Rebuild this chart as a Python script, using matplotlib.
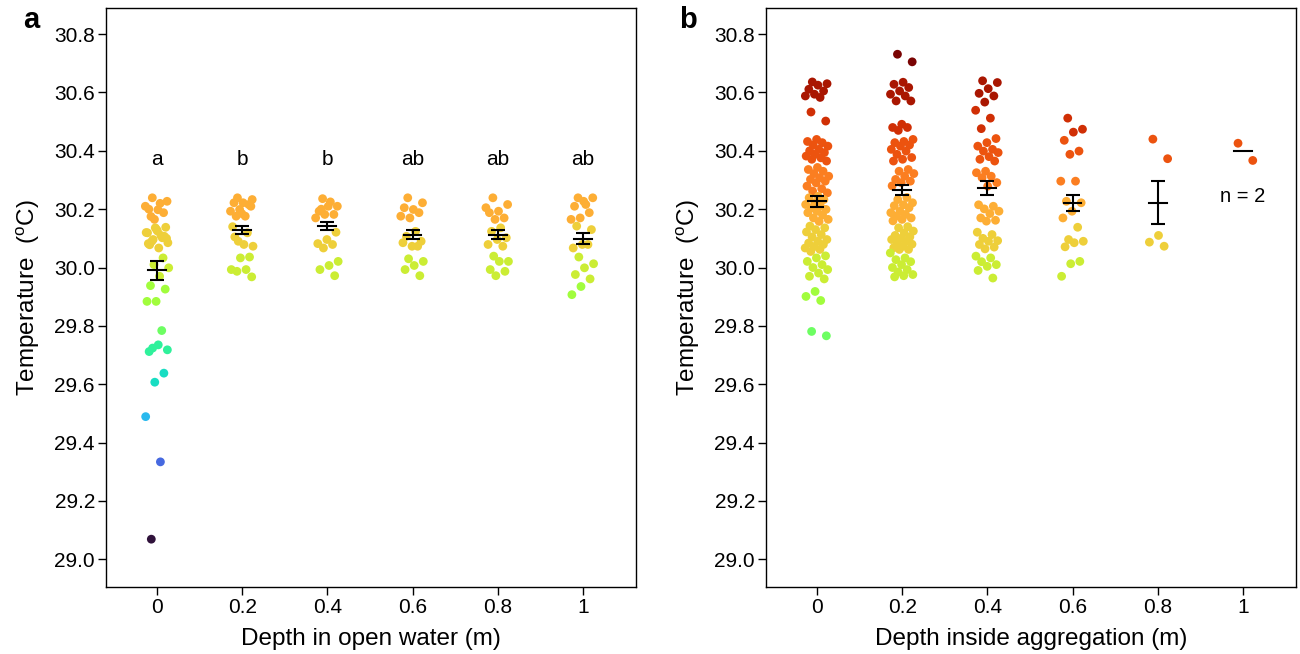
import numpy as np
import matplotlib
matplotlib.use("Agg")
import matplotlib.pyplot as plt

plt.rcParams['font.family'] = ['Liberation Sans', 'DejaVu Sans']
plt.rcParams['mathtext.fontset'] = 'custom'
plt.rcParams['mathtext.rm'] = 'Liberation Sans'

depths = [0, 0.2, 0.4, 0.6, 0.8, 1]
depth_labels = ["0", "0.2", "0.4", "0.6", "0.8", "1"]

# panel a: open water temperatures (deg C) per depth
open_water = [
    [30.239, 30.227, 30.198, 30.200, 30.188, 30.165, 30.210, 30.220, 30.175,
     30.138, 30.130, 30.119, 30.102, 30.096, 30.085, 30.067, 30.078, 30.107,
     30.136, 30.120, 30.110, 30.090, 30.100, 30.125, 30.082,
     30.033, 30.010, 29.999, 29.970, 29.938, 29.926, 29.884, 29.884,
     29.784, 29.724, 29.718, 29.735, 29.712, 29.638, 29.607, 29.489, 29.334, 29.069],
    [30.239, 30.233, 30.222, 30.222, 30.216, 30.199, 30.193, 30.176, 30.176,
     30.210, 30.185, 30.140, 30.119, 30.090, 30.073, 30.079, 30.105,
     30.036, 30.033, 29.993, 29.993, 29.987, 29.968],
    [30.236, 30.210, 30.210, 30.193, 30.182, 30.182, 30.170, 30.225, 30.200,
     30.121, 30.096, 30.082, 30.079, 30.067, 30.021, 30.007, 29.993, 29.972],
    [30.239, 30.222, 30.199, 30.205, 30.188, 30.170, 30.176, 30.124, 30.107,
     30.090, 30.073, 30.085, 30.073, 30.030, 30.021, 30.007, 29.993, 29.972],
    [30.239, 30.216, 30.193, 30.188, 30.170, 30.165, 30.205, 30.136, 30.124,
     30.102, 30.096, 30.079, 30.073, 30.039, 30.021, 30.021, 29.993, 29.987, 29.972],
    [30.239, 30.239, 30.227, 30.210, 30.188, 30.170, 30.165, 30.216, 30.142,
     30.130, 30.079, 30.067, 30.079, 30.036, 30.013, 29.999, 29.976, 29.961,
     29.935, 29.907],
]
mean_a = [29.990, 30.130, 30.143, 30.113, 30.113, 30.098]
se_a = [0.034, 0.014, 0.014, 0.014, 0.014, 0.019]
letters_a = ["a", "b", "b", "ab", "ab", "ab"]

# panel b: inside aggregation
inside_agg = [
    [30.636, 30.630, 30.625, 30.611, 30.605, 30.594, 30.588, 30.583,
     30.533, 30.502,
     30.439, 30.432, 30.428, 30.420, 30.416, 30.405, 30.400, 30.394, 30.388,
     30.382, 30.376, 30.371, 30.365,
     30.343, 30.336, 30.330, 30.322, 30.313, 30.308, 30.302, 30.296, 30.290,
     30.279, 30.270, 30.262, 30.256,
     30.244, 30.239, 30.233, 30.222, 30.216, 30.210, 30.204, 30.199, 30.193,
     30.188, 30.180, 30.170, 30.165, 30.158,
     30.142, 30.136, 30.130, 30.122, 30.113, 30.105, 30.096, 30.090, 30.084,
     30.079, 30.072, 30.067, 30.062, 30.055,
     30.040, 30.033, 30.021, 30.010, 30.000, 29.993, 29.981, 29.970, 29.961,
     29.918, 29.901, 29.887, 29.781, 29.766],
    [30.731, 30.705, 30.635, 30.628, 30.617, 30.605, 30.594, 30.588, 30.571, 30.571,
     30.491, 30.480, 30.480, 30.470,
     30.439, 30.432, 30.428, 30.420, 30.416, 30.405, 30.399, 30.388, 30.377,
     30.371, 30.365,
     30.336, 30.330, 30.322, 30.313, 30.302, 30.296, 30.291, 30.280,
     30.240, 30.233, 30.222, 30.215, 30.212, 30.205, 30.193, 30.188, 30.182,
     30.176, 30.170, 30.165, 30.160,
     30.140, 30.136, 30.125, 30.119, 30.110, 30.105, 30.100, 30.096, 30.090,
     30.085, 30.080, 30.073, 30.068, 30.062, 30.062, 30.050,
     30.033, 30.027, 30.020, 30.010, 30.000, 29.993, 29.985, 29.976, 29.972, 29.968],
    [30.640, 30.634, 30.613, 30.597, 30.588, 30.567,
     30.539, 30.512, 30.476,
     30.442, 30.428, 30.416, 30.405, 30.399, 30.394, 30.380, 30.371, 30.365,
     30.330, 30.325, 30.313, 30.308, 30.291, 30.279,
     30.215, 30.210, 30.201, 30.193, 30.185, 30.170, 30.162, 30.159,
     30.121, 30.113, 30.100, 30.092, 30.090, 30.079, 30.070, 30.064,
     30.039, 30.033, 30.020, 30.010, 30.004, 29.990, 29.964],
    [30.512, 30.474, 30.464, 30.436, 30.399, 30.388, 30.296, 30.296, 30.227,
     30.222, 30.193, 30.170, 30.138, 30.096, 30.090, 30.085, 30.071, 30.021,
     30.013, 29.970],
    [30.440, 30.373, 30.110, 30.087, 30.073],
    [30.426, 30.367],
]
mean_b = [30.227, 30.265, 30.273, 30.222, 30.222, 30.399]
se_b = [0.018, 0.018, 0.024, 0.028, 0.074, 0.0]

cmap = plt.get_cmap('turbo')
norm = plt.Normalize(29.1, 30.7)


def jitter(n, width=0.028):
    # deterministic spread of points around the depth position
    return ((np.arange(n) * 0.618034 + 0.3) % 1 - 0.5) * 2 * width


def panel(ax, groups, means, ses, xlabel):
    for d, vals in zip(depths, groups):
        vals = np.array(vals)
        cols = cmap(norm(np.round(vals, 1)))
        ax.scatter(d + jitter(len(vals)), vals, s=40, c=cols, edgecolors='none', zorder=2)
    for d, m, s in zip(depths, means, ses):
        ax.plot([d - 0.021, d + 0.021], [m, m], color='black', lw=1.5, zorder=3)
        if s > 0:
            ax.errorbar(d, m, yerr=s, fmt='none', ecolor='black', elinewidth=1.5,
                        capsize=4.8, capthick=1.5, zorder=3)
    ax.set_xlim(-0.12, 1.125)
    ax.set_ylim(28.905, 30.89)
    ax.set_xticks(depths)
    ax.set_xticklabels(depth_labels)
    yt = np.arange(29.0, 30.81, 0.2)
    ax.set_yticks(yt)
    ax.set_yticklabels(["%.1f" % v for v in yt])
    ax.tick_params(labelsize=15, length=6, width=1, direction='out', pad=2)
    for sp in ax.spines.values():
        sp.set_linewidth(1)
    ax.set_xlabel(xlabel, fontsize=17.5, labelpad=8)
    ax.set_ylabel(r'Temperature  ($^{\mathrm{o}}$C)', fontsize=17.5, labelpad=9)


fig = plt.figure(figsize=(13, 6.54), dpi=100)
ax1 = fig.add_axes([106 / 1300, 0.1024, 530 / 1300, 0.8856])
ax2 = fig.add_axes([766 / 1300, 0.1024, 530 / 1300, 0.8856])

panel(ax1, open_water, mean_a, se_a, "Depth in open water (m)")
panel(ax2, inside_agg, mean_b, se_b, "Depth inside aggregation (m)")

for d, lab in zip(depths, letters_a):
    ax1.text(d, 30.37, lab, ha='center', va='center', fontsize=15)
ax2.text(1, 30.245, "n = 2", ha='center', va='center', fontsize=14.5)

fig.text(31 / 1300, 1 - 20 / 654, "a", fontsize=21, fontweight='bold', ha='center', va='center')
fig.text(688 / 1300, 1 - 20 / 654, "b", fontsize=21, fontweight='bold', ha='center', va='center')

fig.savefig("out.png", dpi=100)
